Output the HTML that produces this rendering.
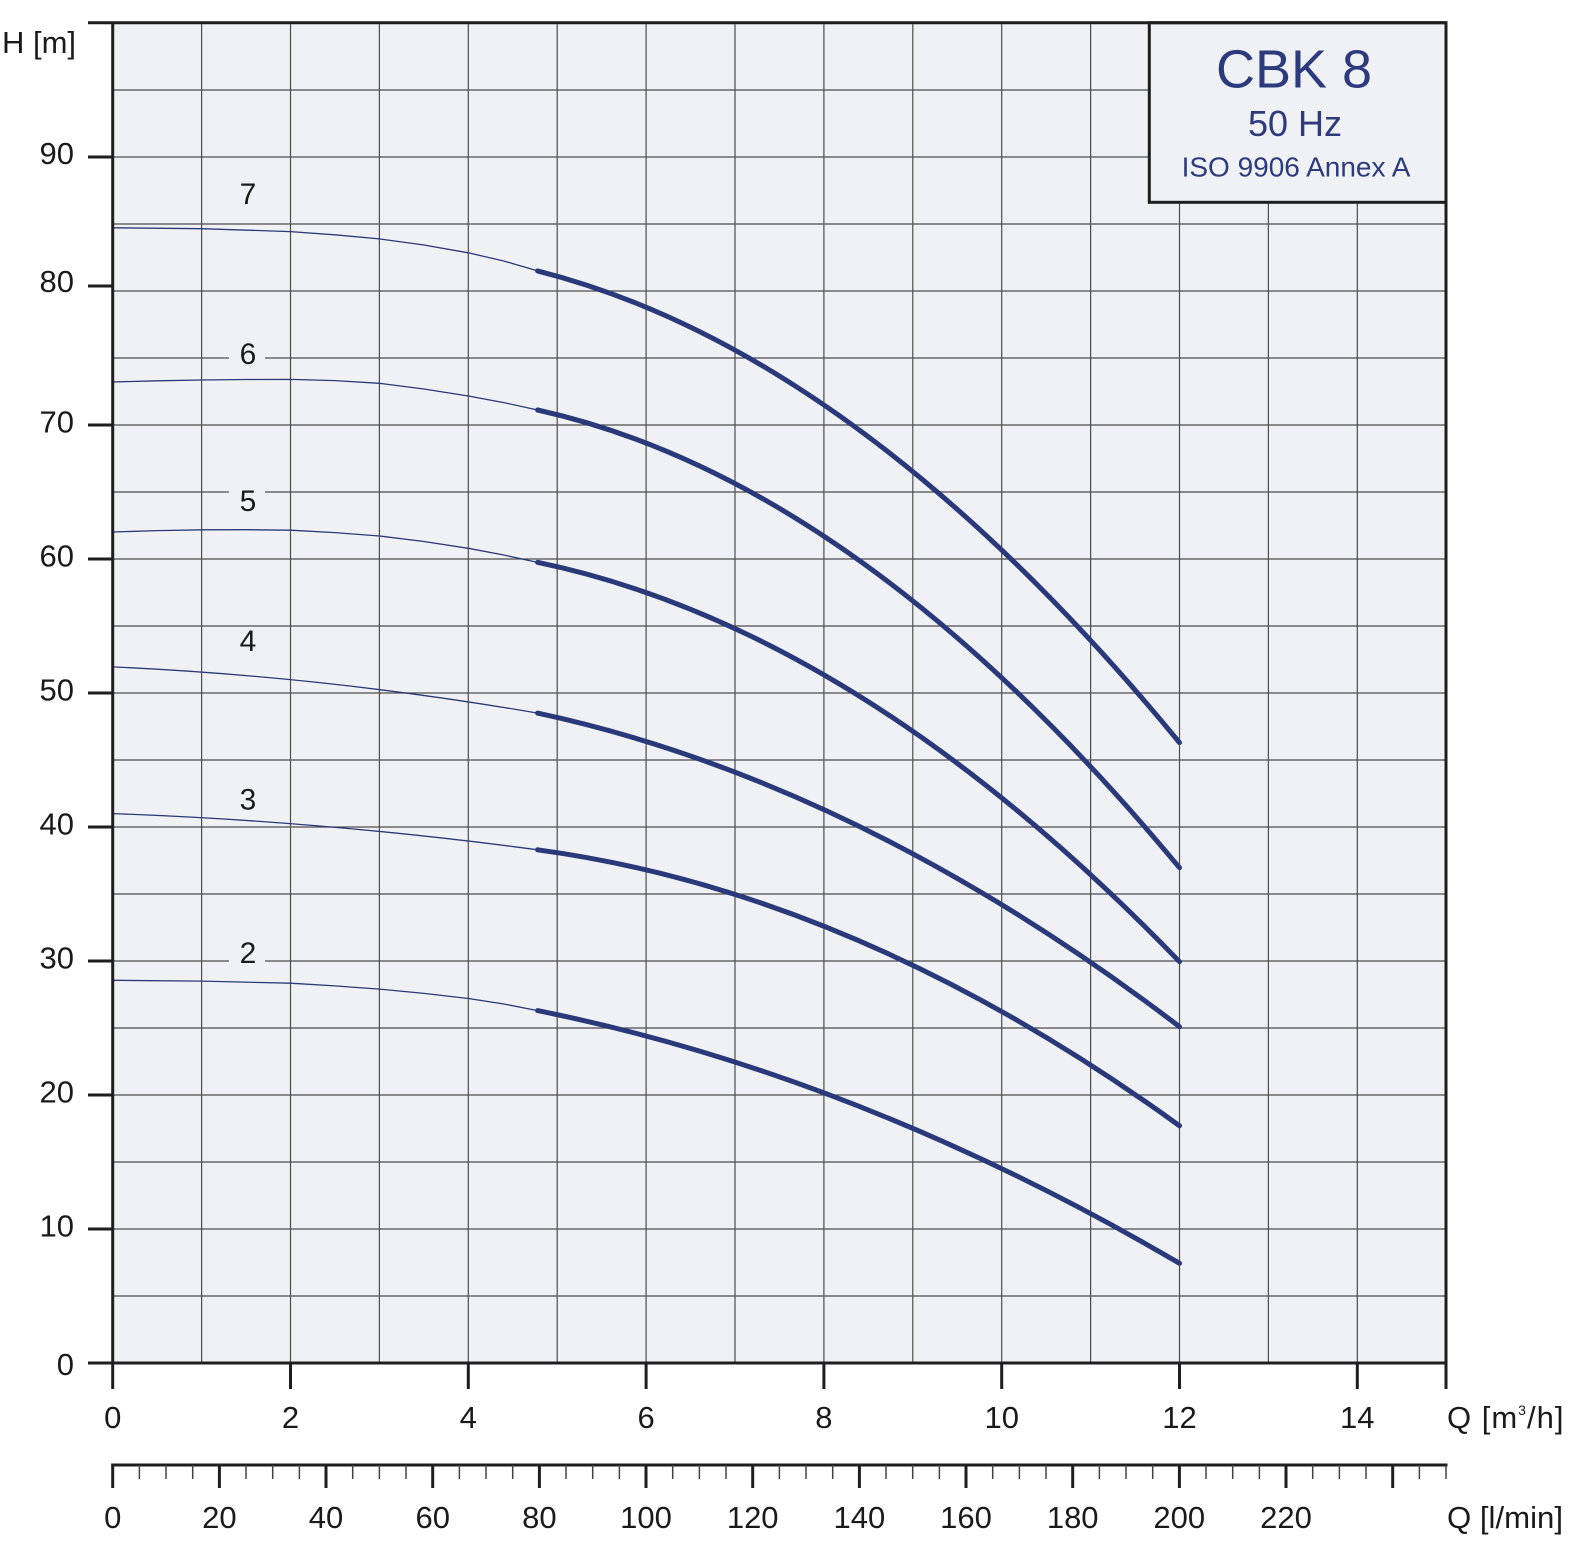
<!DOCTYPE html>
<html><head><meta charset="utf-8"><style>
html,body{margin:0;padding:0;background:#fff;}
svg{display:block;}
text{font-family:"Liberation Sans",Arial,sans-serif;}
</style></head><body>
<svg width="1578" height="1546" viewBox="0 0 1578 1546" xmlns="http://www.w3.org/2000/svg">
<rect x="0" y="0" width="1578" height="1546" fill="#ffffff"/>
<rect x="112.7" y="22.7" width="1333.3" height="1340.3" fill="#eff1f4"/>
<g stroke="#4d4d4d" stroke-width="1.2" fill="none">
<path d="M201.6,22.7V1363 M290.5,22.7V1363 M379.4,22.7V1363 M468.3,22.7V1363 M557.2,22.7V1363 M646.1,22.7V1363 M735,22.7V1363 M823.9,22.7V1363 M912.8,22.7V1363 M1001.7,22.7V1363 M1090.6,22.7V1363 M1179.5,22.7V1363 M1268.4,22.7V1363 M1357.3,22.7V1363"/>
<path d="M112.7,1296H1446 M112.7,1229H1446 M112.7,1162H1446 M112.7,1095H1446 M112.7,1028H1446 M112.7,961H1446 M112.7,894H1446 M112.7,827H1446 M112.7,760H1446 M112.7,693H1446 M112.7,626H1446 M112.7,559H1446 M112.7,492H1446 M112.7,425H1446 M112.7,358H1446 M112.7,291H1446 M112.7,224H1446 M112.7,157H1446 M112.7,90H1446"/>
</g>
<rect x="1149.3" y="22.7" width="296.7" height="179.6" fill="#eff1f4" stroke="#1e1e1e" stroke-width="3"/>
<text x="1294" y="87.5" font-size="54" fill="#2d3b7c" text-anchor="middle">CBK 8</text>
<text x="1295" y="136" font-size="36" fill="#2d3b7c" text-anchor="middle">50 Hz</text>
<text x="1296" y="176.7" font-size="28" fill="#2d3b7c" text-anchor="middle">ISO 9906 Annex A</text>
<g fill="#eff1f4">
<rect x="229" y="340" width="36" height="26"/>
<rect x="229" y="487" width="36" height="26"/>
<rect x="229" y="627" width="36" height="26"/>
<rect x="229" y="939" width="36" height="26"/>
</g>
<g font-size="30" fill="#1a1a1a" text-anchor="middle">
<text x="248" y="204">7</text>
<text x="248" y="364">6</text>
<text x="248" y="511">5</text>
<text x="248" y="651">4</text>
<text x="248" y="809.5">3</text>
<text x="248" y="963">2</text>
</g>
<g stroke="#29397a" stroke-width="1.3" fill="none" stroke-linejoin="round">
<polyline points="112.7,227.8 201.6,228.7 290.5,231.6 334.9,234.8 379.4,238.9 423.9,245.0 468.3,252.8 503.8,261 537.6,270.9"/>
<polyline points="112.7,382 157.2,380.8 201.6,380 246,379.5 290.5,379.4 334.9,380.6 379.4,383.3 423.9,389 468.3,396 503.8,402.6 537.6,410"/>
<polyline points="112.7,532 157.2,530.6 201.6,529.8 246,529.7 290.5,530.2 334.9,532.6 379.4,536 423.9,541.5 468.3,548.3 503.8,555 537.6,562.35"/>
<path d="M112.7,666.9 Q325.15,676.5 537.6,713.1"/>
<path d="M112.7,813.6 Q325.15,821.2 537.6,849.8"/>
<polyline points="112.7,980.3 201.6,981.1 290.5,983.2 334.9,985.9 379.4,989.1 423.9,993.4 468.3,998.5 503.8,1004 537.6,1010.6"/>
</g>
<g stroke="#29397a" stroke-width="5" fill="none" stroke-linecap="round">
<path d="M537.6,270.9 Q858.55,352.2 1179.5,742.6"/>
<path d="M537.6,410 Q858.55,481.1 1179.5,867.7"/>
<path d="M537.6,562.35 Q858.55,629.2 1179.5,961.7"/>
<path d="M537.6,713.1 Q858.55,782.1 1179.5,1026.7"/>
<path d="M537.6,849.8 Q858.55,893.3 1179.5,1125.8"/>
<path d="M537.6,1010.6 Q858.55,1075.3 1179.5,1263.3"/>
</g>
<g stroke="#1e1e1e" stroke-width="3" fill="none">
<path d="M88,22.7H1447.5 M1446,22.7V1389 M88,1363H1447.5 M112.7,21.2V1389"/>
<path d="M88,1229H112.7 M88,1095H112.7 M88,961H112.7 M88,827H112.7 M88,693H112.7 M88,559H112.7 M88,425H112.7 M88,286H112.7 M88,157H112.7"/>
<path d="M290.5,1363V1389 M468.3,1363V1389 M646.1,1363V1389 M823.9,1363V1389 M1001.7,1363V1389 M1179.5,1363V1389 M1357.3,1363V1389"/>
<path d="M111.2,1465H1447.5"/>
<path d="M112.7,1465V1488 M219.4,1465V1488 M326,1465V1488 M432.7,1465V1488 M539.4,1465V1488 M646,1465V1488 M752.7,1465V1488 M859.4,1465V1488 M966,1465V1488 M1072.7,1465V1488 M1179.4,1465V1488 M1286,1465V1488 M1392.7,1465V1488"/>
</g>
<g stroke="#444" stroke-width="1.5" fill="none">
<path d="M139.4,1465V1479 M166,1465V1479 M192.7,1465V1479 M246,1465V1479 M272.7,1465V1479 M299.4,1465V1479 M352.7,1465V1479 M379.4,1465V1479 M406,1465V1479 M459.4,1465V1479 M486,1465V1479 M512.7,1465V1479 M566,1465V1479 M592.7,1465V1479 M619.4,1465V1479 M672.7,1465V1479 M699.4,1465V1479 M726,1465V1479 M779.4,1465V1479 M806,1465V1479 M832.7,1465V1479 M886,1465V1479 M912.7,1465V1479 M939.4,1465V1479 M992.7,1465V1479 M1019.4,1465V1479 M1046,1465V1479 M1099.4,1465V1479 M1126,1465V1479 M1152.7,1465V1479 M1206,1465V1479 M1232.7,1465V1479 M1259.4,1465V1479 M1312.7,1465V1479 M1339.4,1465V1479 M1366,1465V1479 M1419.4,1465V1479 M1446,1465V1479"/>
</g>
<g font-size="31" fill="#1a1a1a" text-anchor="end">
<text x="74" y="1375">0</text>
<text x="74" y="1236.5">10</text>
<text x="74" y="1102.5">20</text>
<text x="74" y="968.5">30</text>
<text x="74" y="834.5">40</text>
<text x="74" y="700.5">50</text>
<text x="74" y="566.5">60</text>
<text x="74" y="432.5">70</text>
<text x="74" y="292">80</text>
<text x="74" y="164">90</text>
</g>
<text x="2" y="53" font-size="31" fill="#1a1a1a">H [m]</text>
<g font-size="31" fill="#1a1a1a" text-anchor="middle">
<text x="112.7" y="1428">0</text>
<text x="290.5" y="1428">2</text>
<text x="468.3" y="1428">4</text>
<text x="646.1" y="1428">6</text>
<text x="823.9" y="1428">8</text>
<text x="1001.7" y="1428">10</text>
<text x="1179.5" y="1428">12</text>
<text x="1357.3" y="1428">14</text>
<text x="112.7" y="1528">0</text>
<text x="219.4" y="1528">20</text>
<text x="326" y="1528">40</text>
<text x="432.7" y="1528">60</text>
<text x="539.4" y="1528">80</text>
<text x="646" y="1528">100</text>
<text x="752.7" y="1528">120</text>
<text x="859.4" y="1528">140</text>
<text x="966" y="1528">160</text>
<text x="1072.7" y="1528">180</text>
<text x="1179.3" y="1528">200</text>
<text x="1286" y="1528">220</text>
</g>
<text x="1447" y="1428" font-size="31" fill="#1a1a1a" letter-spacing="1">Q [m<tspan font-size="14" dy="-13">3</tspan><tspan dy="13">/h]</tspan></text>
<text x="1447" y="1528" font-size="31" fill="#1a1a1a" textLength="116" lengthAdjust="spacingAndGlyphs">Q [l/min]</text>
</svg>
</body></html>
